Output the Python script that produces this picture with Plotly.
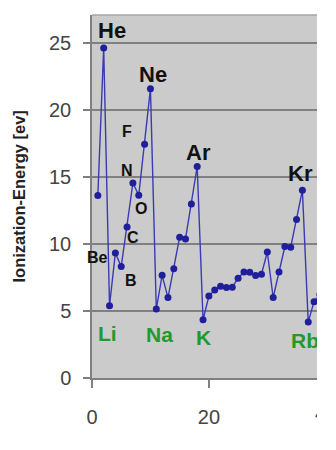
import plotly.graph_objects as go

# Atomic number and first ionization energy (eV)
atomic_number = list(range(1, 41))
ionization_energy = [13.60, 24.59, 5.39, 9.32, 8.30, 11.26, 14.53, 13.62, 17.42, 21.56,
                     5.14, 7.65, 5.99, 8.15, 10.49, 10.36, 12.97, 15.76, 4.34, 6.11,
                     6.56, 6.83, 6.75, 6.77, 7.43, 7.90, 7.88, 7.64, 7.73, 9.39,
                     6.00, 7.90, 9.79, 9.75, 11.81, 14.00, 4.18, 5.69, 6.22, 6.63]

# element labels
noble_labels = ["He", "Ne", "Ar", "Kr"]
noble_z = [2, 10, 18, 36]
small_labels = ["F", "N", "O", "C", "Be", "B"]
small_z = [9, 7, 8, 6, 4, 5]
alkali_labels = ["Li", "Na", "K", "Rb"]
alkali_z = [3, 11, 19, 37]

y_ticks = [0, 5, 10, 15, 20, 25]
x_ticks = [0, 20]

FONT = "Liberation Sans, Arial, sans-serif"

fig = go.Figure()
fig.add_trace(go.Scatter(
    x=atomic_number, y=ionization_energy, mode="lines+markers",
    line=dict(color="#3a3ab4", width=1.4),
    marker=dict(color="#1f1f9c", size=7),
    showlegend=False,
))

def ie(z):
    return ionization_energy[atomic_number.index(z)]

annotations = []
noble_shift = {"He": (8, 18), "Ne": (3, 14), "Ar": (1, 14), "Kr": (-2, 17)}
for s, z in zip(noble_labels, noble_z):
    dx, dy = noble_shift[s]
    annotations.append(dict(x=z, y=ie(z), text=s, showarrow=False, xshift=dx, yshift=dy,
                            font=dict(family=FONT, size=22, color="#111111", weight="bold")))
small_shift = {"F": (-18, 13), "N": (-6, 13), "O": (2, -13), "C": (6, -11),
               "Be": (-18, -5), "B": (10, -14)}
for s, z in zip(small_labels, small_z):
    dx, dy = small_shift[s]
    annotations.append(dict(x=z, y=ie(z), text=s, showarrow=False, xshift=dx, yshift=dy,
                            font=dict(family=FONT, size=16, color="#111111", weight="bold")))
alkali_shift = {"Li": (-2, -28), "Na": (3, -25), "K": (0, -18), "Rb": (-3, -19)}
for s, z in zip(alkali_labels, alkali_z):
    dx, dy = alkali_shift[s]
    annotations.append(dict(x=z, y=ie(z), text=s, showarrow=False, xshift=dx, yshift=dy,
                            font=dict(family=FONT, size=21, color="#23992b", weight="bold")))

# y-axis title
annotations.append(dict(xref="paper", yref="paper", x=(18 - 92) / 225, y=0.5,
                        text="Ionization-Energy [ev]", textangle=-90, showarrow=False,
                        xanchor="center", yanchor="middle",
                        font=dict(family=FONT, size=16.5, color="#222222", weight="bold")))
# partially visible tick label at 40 (cut by the image edge)
annotations.append(dict(xref="paper", yref="paper", x=40 * 5.844 / 225, y=0,
                        yshift=-35, text="40", showarrow=False,
                        xanchor="center", yanchor="middle",
                        font=dict(family=FONT, size=20, color="#444444")))

fig.update_layout(
    width=317, height=450,
    margin=dict(l=92, r=0, t=15, b=72),
    paper_bgcolor="white", plot_bgcolor="#cbcbcb",
    annotations=annotations,
    font=dict(family=FONT),
    shapes=[dict(type="line", xref="paper", yref="paper", x0=0, x1=1, y0=1, y1=1,
                 line=dict(color="#a6a6a6", width=1.5), layer="below")],
)
fig.update_xaxes(range=[0, 38.5], tickvals=x_ticks, ticks="outside", ticklen=8,
                 tickcolor="#808080", tickwidth=1.5, showgrid=False, zeroline=False,
                 showline=True, linecolor="#808080", linewidth=1.5,
                 ticklabelstandoff=12,
                 tickfont=dict(family=FONT, size=20, color="#444444"))
fig.update_yaxes(range=[0, 27.05], tickvals=y_ticks, ticks="outside", ticklen=7,
                 tickcolor="#808080", tickwidth=1.5, showgrid=True, gridcolor="#808080",
                 gridwidth=1.5, zeroline=False, showline=True, linecolor="#808080",
                 linewidth=1.5, ticklabelstandoff=8,
                 tickfont=dict(family=FONT, size=20, color="#444444"))

fig.write_html("out.html")
